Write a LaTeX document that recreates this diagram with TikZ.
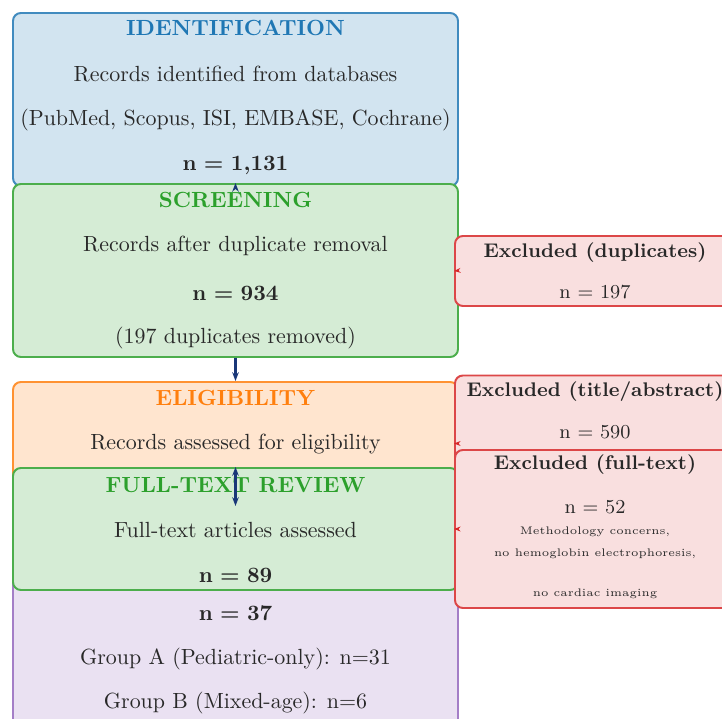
\documentclass[tikz,border=0pt]{standalone}
\usepackage{amsmath, amssymb}
\usepackage{tikz}
\usetikzlibrary{arrows.meta}
\definecolor{tabblue}{RGB}{31, 119, 180}
\definecolor{tabgreen}{RGB}{44, 160, 44}
\definecolor{taborange}{RGB}{255, 127, 14}
\definecolor{tabred}{RGB}{214, 39, 40}
\definecolor{tabpurple}{RGB}{148, 103, 189}
\definecolor{flowblue}{RGB}{25, 55, 120}
\definecolor{darktext}{RGB}{40, 40, 40}
\newcommand{\pxu}{0.456pt}
\newcommand{\countbf}[1]{\mbox{\textbf{n} $\boldsymbol{=}$ \textbf{#1}}}

\tikzset{
  stagebox/.style={draw=#1!85, fill=#1!20, line width=0.9pt, rounded corners=3.6pt,
    minimum width=445*\pxu, inner sep=0pt},
  exclbox/.style={draw=tabred!85, fill=tabred!15, line width=0.9pt, rounded corners=3.6pt,
    minimum width=280*\pxu, inner sep=0pt},
  headtxt/.style={font=\bfseries, text=#1},
  bodytxt/.style={text=darktext},
  smalltxt/.style={text=darktext, font=\small},
  flow/.style={-{Stealth[length=4pt]}, draw=flowblue, line width=1pt},
  skip/.style={-{Stealth[length=3pt]}, draw=tabred, line width=0.6pt},
}

\begin{document}
\begin{tikzpicture}[x=\pxu, y=-\pxu]
  \useasboundingbox (0,0) rectangle (722,719);
  \clip (0,0) rectangle (722,719);

  % Etapas principales
  \node[stagebox=tabblue, minimum height=173*\pxu] (ident) at (235.5,99.5) {};
  \node[stagebox=tabgreen, minimum height=173*\pxu] (screen) at (235.5,270.5) {};
  \node[stagebox=taborange, minimum height=123*\pxu] (elig) at (235.5,443.5) {};
  \node[stagebox=tabpurple, minimum height=210*\pxu] (incl) at (235.5,665) {};
  \node[stagebox=tabgreen, minimum height=122*\pxu] (ft) at (235.5,529) {};

  % Exclusiones
  \node[exclbox, minimum height=70*\pxu] (excdup) at (595,271) {};
  \node[exclbox, minimum height=136*\pxu] (excta) at (595,443.5) {};
  \node[exclbox, minimum height=158*\pxu] (excft) at (595,529) {};

  % Textos
  \node[headtxt=tabblue] (identhead) at (235.5,28) {IDENTIFICATION};
  \node[bodytxt] (identline) at (235.5,74) {Records identified from databases};
  \node[bodytxt] (identdb) at (235.5,120) {(PubMed, Scopus, ISI, EMBASE, Cochrane)};
  \node[bodytxt] (identn) at (235.5,165) {\countbf{1,131}};

  \node[headtxt=tabgreen] (screenhead) at (235.5,200) {SCREENING};
  \node[bodytxt] (screenline) at (235.5,246) {Records after duplicate removal};
  \node[bodytxt] (screenn) at (235.5,293) {\countbf{934}};
  \node[bodytxt] (screennote) at (235.5,338) {(197 duplicates removed)};

  \node[headtxt=taborange] (elighead) at (235.5,398) {ELIGIBILITY};
  \node[bodytxt] (eligline) at (235.5,444) {Records assessed for eligibility};

  \node[headtxt=tabgreen] (fthead) at (235.5,485) {FULL-TEXT REVIEW};
  \node[bodytxt] (ftline) at (235.5,530) {Full-text articles assessed};
  \node[bodytxt] (ftn) at (235.5,575) {\countbf{89}};

  \node[bodytxt] (incln) at (235.5,613) {\countbf{37}};
  \node[bodytxt] (inclA) at (235.5,659) {Group A (Pediatric-only): n=31};
  \node[bodytxt] (inclB) at (235.5,703) {Group B (Mixed-age): n=6};

  \node[smalltxt, font=\small\bfseries] (excduphead) at (595,253) {Excluded (duplicates)};
  \node[smalltxt] (excdupn) at (595,292) {n = 197};
  \node[smalltxt, font=\small\bfseries] (exctahead) at (595,392) {Excluded (title/abstract)};
  \node[smalltxt] (exctan) at (595,432) {n = 590};
  \node[smalltxt, font=\small\bfseries] (excfthead) at (595,465) {Excluded (full-text)};
  \node[smalltxt] (excftn) at (595,507) {n = 52};
  \node[smalltxt, font=\tiny] (excftr1) at (595,532) {Methodology concerns,};
  \node[smalltxt, font=\tiny] (excftr2) at (595,554) {no hemoglobin electrophoresis,};
  \node[smalltxt, font=\tiny] (excftr3) at (595,594) {no cardiac imaging};

  % Flechas
  \draw[flow] (ident.south) -- (screen.north);
  \draw[flow] (screen.south) -- (elig.north);
  \draw[flow, {Stealth[length=4pt]}-{Stealth[length=4pt]}] (elig.south) -- (ft.north);
  \draw[skip] (screen.east) -- (excdup.west);
  \draw[skip] (elig.east) -- (excta.west);
  \draw[skip] (ft.east) -- (excft.west);
\end{tikzpicture}
\end{document}
